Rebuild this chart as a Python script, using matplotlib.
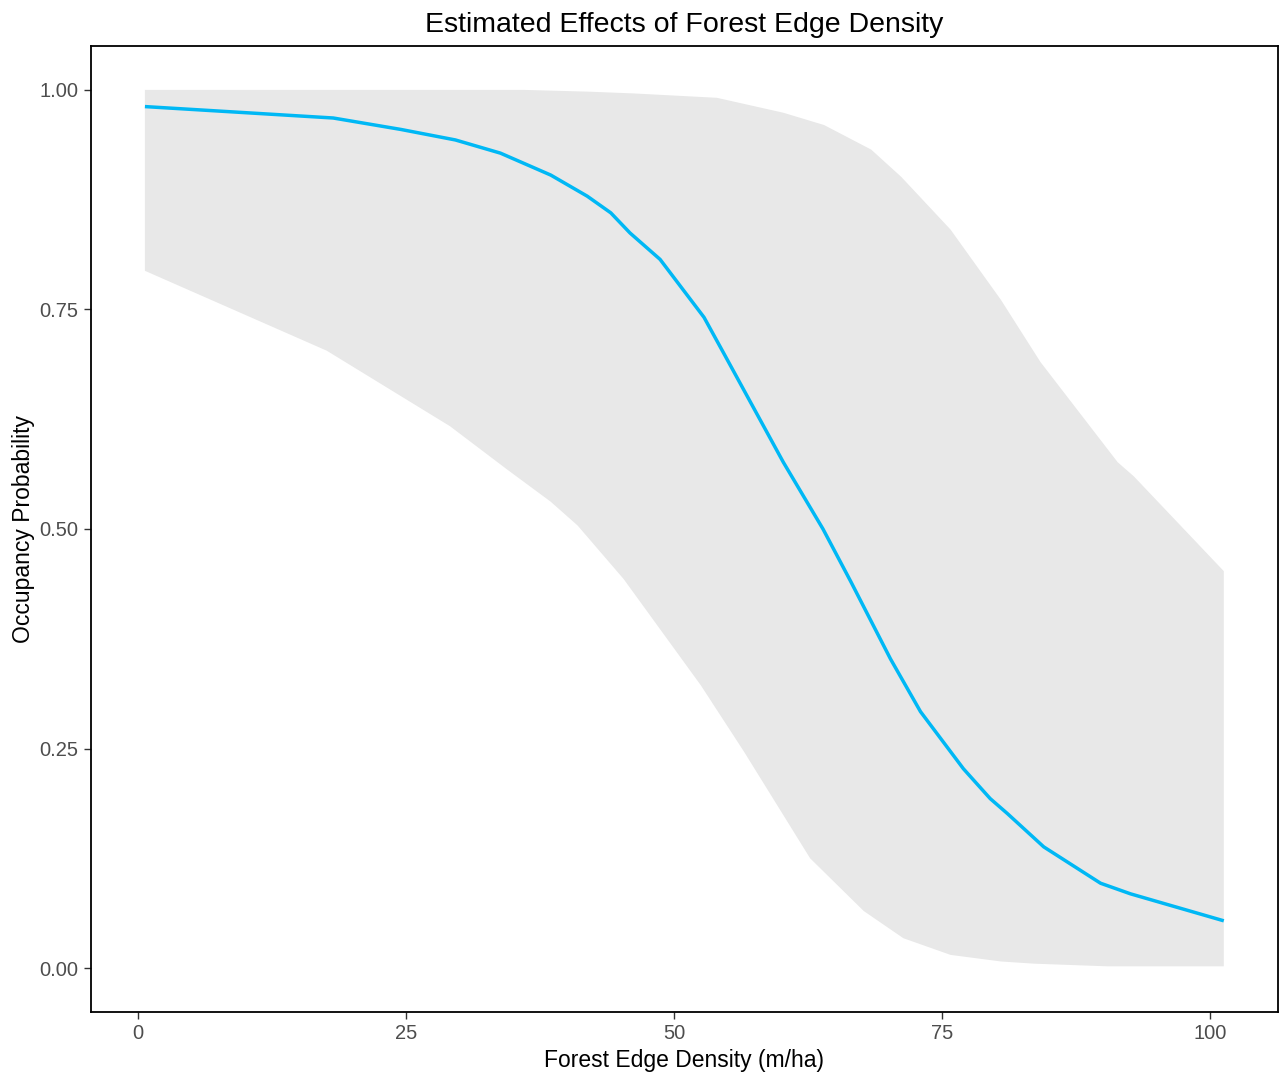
import numpy as np
import matplotlib
matplotlib.use("Agg")
import matplotlib.pyplot as plt

plt.rcParams['font.family'] = ['Liberation Sans', 'DejaVu Sans']

# fitted occupancy curve
edge_line = [0.63, 18.2, 24.5, 29.6, 33.8, 38.5, 41.9, 44.1, 45.9, 48.7, 52.8, 54.6,
             60.2, 63.9, 66.5, 70.2, 73.0, 77.0, 79.5, 81.1, 84.5, 89.8, 92.6, 101.3]
occ_line = [0.981, 0.968, 0.955, 0.943, 0.928, 0.903, 0.879, 0.860, 0.837, 0.807, 0.741, 0.701,
            0.576, 0.500, 0.440, 0.352, 0.292, 0.227, 0.193, 0.176, 0.138, 0.0966, 0.0845, 0.0538]

# upper and lower confidence limits
edge_upper = [0.63, 36.0, 42.0, 46.2, 54.0, 60.2, 64.0, 68.4, 71.2, 75.8, 80.5, 84.2, 91.4, 92.9, 101.3]
occ_upper = [1.0, 1.0, 0.998, 0.996, 0.991, 0.974, 0.960, 0.932, 0.901, 0.841, 0.761, 0.690, 0.576, 0.560, 0.452]

edge_lower = [0.63, 17.6, 29.1, 34.4, 38.5, 41.0, 45.3, 52.5, 56.5, 62.7, 67.7, 71.4, 75.8, 80.5, 83.6, 90.4, 101.3]
occ_lower = [0.794, 0.703, 0.617, 0.568, 0.531, 0.504, 0.443, 0.322, 0.247, 0.125, 0.065, 0.034, 0.015, 0.0075, 0.005, 0.002, 0.002]

x_ticks = [0, 25, 50, 75, 100]
y_ticks = [0.0, 0.25, 0.5, 0.75, 1.0]

fig = plt.figure(figsize=(12.83, 10.72), dpi=100)
ax = fig.add_axes([0.0709, 0.0560, 0.9250, 0.9011])

# ribbon
band_x = np.concatenate([edge_upper, edge_lower[::-1]])
band_y = np.concatenate([occ_upper, occ_lower[::-1]])
ax.fill(band_x, band_y, color='#E8E8E8', lw=0)

ax.plot(edge_line, occ_line, color='#00B8F5', lw=2.5, solid_capstyle='butt')

# ggplot style 5% expansion
xr = edge_line[-1] - edge_line[0]
ax.set_xlim(edge_line[0] - 0.05 * xr, edge_line[-1] + 0.05 * xr)
ax.set_ylim(-0.05, 1.05)

ax.set_xticks(x_ticks)
ax.set_xticklabels([str(t) for t in x_ticks])
ax.set_yticks(y_ticks)
ax.set_yticklabels(['%.2f' % t for t in y_ticks])
ax.tick_params(axis='both', length=5, width=1, color='#333333', labelcolor='#4D4D4D',
               labelsize=14.5, pad=4)

for s in ax.spines.values():
    s.set_color('black')
    s.set_linewidth(1.3)

ax.set_xlabel("Forest Edge Density (m/ha)", fontsize=16.5, labelpad=4)
ax.set_ylabel("Occupancy Probability", fontsize=16.5, labelpad=3)
ax.set_title("Estimated Effects of Forest Edge Density", fontsize=20.5, pad=10)

fig.savefig("out.png", dpi=100)
